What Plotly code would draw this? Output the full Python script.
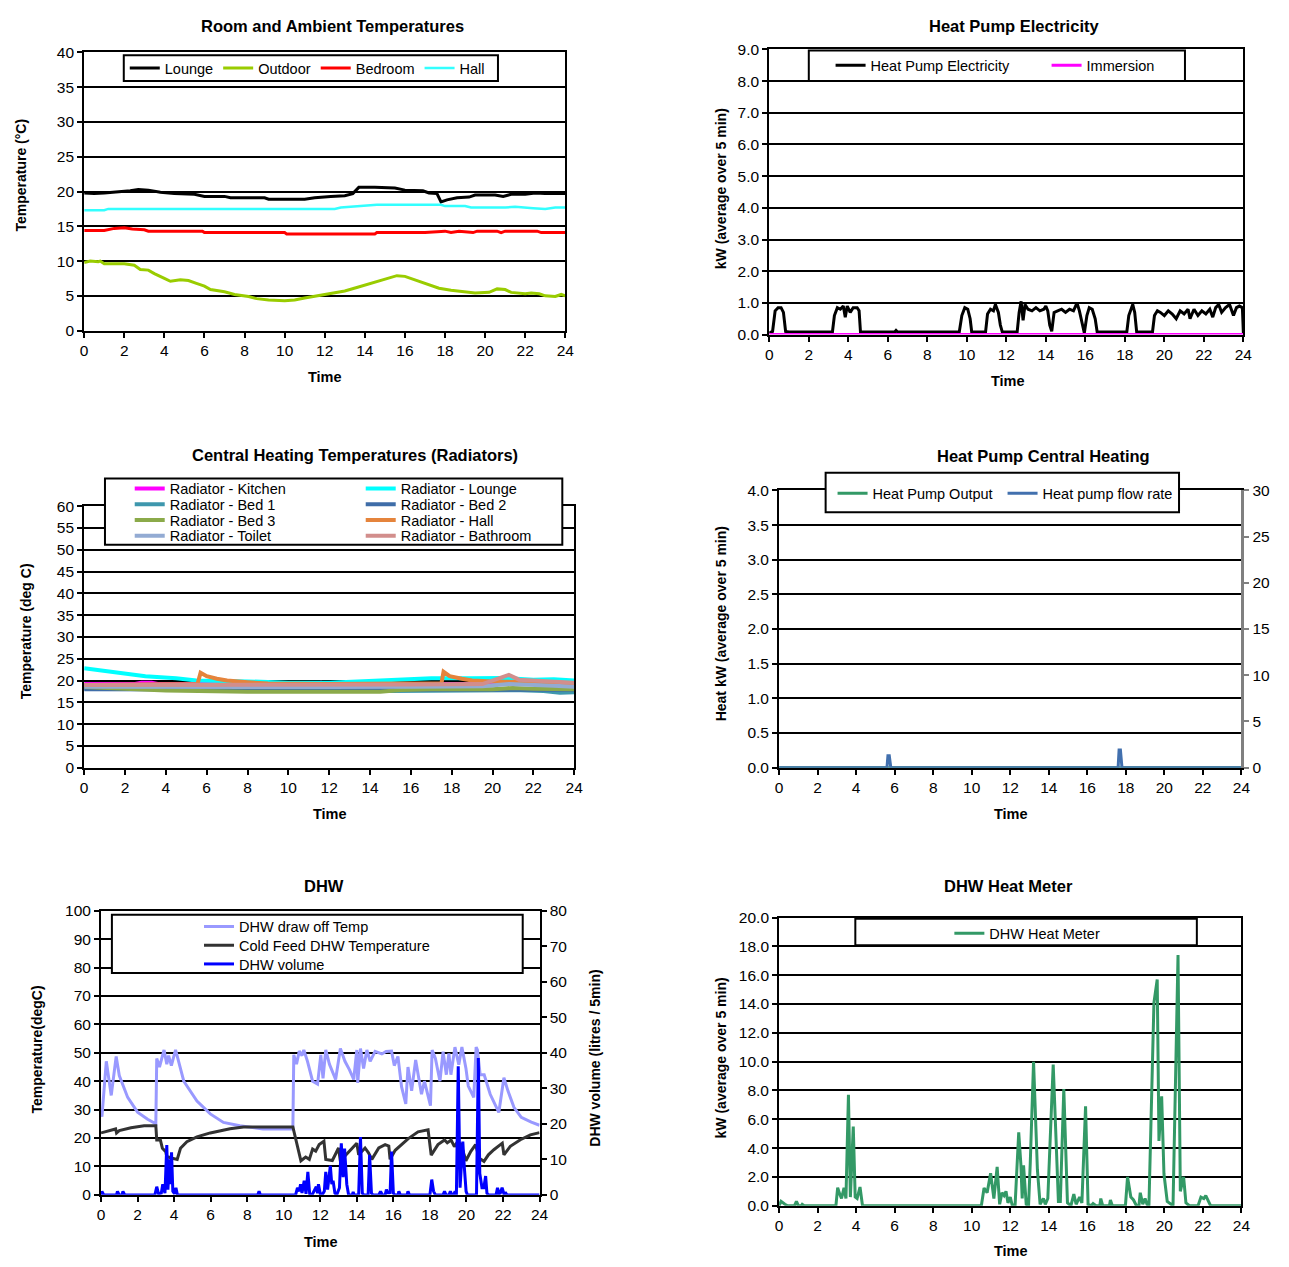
import plotly.graph_objects as go

# ---------------- DATA ----------------
# Panel 1: Room and Ambient Temperatures
lounge_t = [0, 0.5, 1.0, 1.5, 2.0, 2.3, 2.7, 3.2, 3.8, 4.5,
            5.5, 6.0, 7.0, 7.3, 9.0, 9.2, 11.0, 11.5, 12.3, 13.0,
            13.4, 13.7, 14.5, 15.0, 15.5, 16.0, 16.9, 17.2, 17.6, 17.8,
            18.1, 18.6, 19.2, 19.5, 20.5, 20.9, 21.3, 22.0, 22.5, 23.0, 24.0]
lounge_v = [19.8, 19.7, 19.8, 19.9, 20.0, 20.1, 20.3, 20.2, 19.9, 19.7,
            19.6, 19.3, 19.3, 19.1, 19.1, 18.9, 18.9, 19.1, 19.3, 19.4,
            19.7, 20.6, 20.6, 20.5, 20.5, 20.2, 20.1, 19.8, 19.7, 18.5,
            18.8, 19.1, 19.2, 19.5, 19.5, 19.3, 19.6, 19.6, 19.8, 19.7, 19.7]
outdoor_t = [0, 0.3, 0.7, 0.8, 1.0, 2.0, 2.5, 2.8, 3.2, 3.5,
             4.0, 4.3, 4.8, 5.2, 5.6, 6.0, 6.3, 7.0, 7.5, 8.2,
             8.6, 9.2, 10.0, 10.5, 11.0, 11.6, 12.2, 13.0, 13.6, 14.2,
             14.8, 15.2, 15.6, 16.0, 16.4, 16.8, 17.2, 17.7, 18.3, 19.0,
             19.5, 20.2, 20.6, 21.0, 21.3, 22.0, 22.3, 22.7, 23.0, 23.5,
             23.8, 24.0]
outdoor_v = [9.8, 10.0, 9.9, 10.0, 9.6, 9.6, 9.4, 8.8, 8.7, 8.2,
             7.5, 7.1, 7.3, 7.2, 6.8, 6.4, 5.9, 5.6, 5.2, 4.9,
             4.6, 4.4, 4.3, 4.4, 4.7, 5.0, 5.3, 5.7, 6.2, 6.7,
             7.2, 7.6, 7.9, 7.8, 7.4, 7.0, 6.5, 6.1, 5.8, 5.6,
             5.4, 5.5, 6.0, 5.9, 5.5, 5.3, 5.4, 5.3, 5.0, 4.9,
             5.2, 5.0]
bedroom_t = [0, 1.0, 1.5, 2.0, 2.4, 3.0, 3.2, 5.9, 6.0, 10.0,
             10.1, 14.5, 14.6, 17.0, 18.0, 18.3, 18.7, 19.4, 19.6, 20.6,
             20.8, 21.0, 22.6, 22.8, 24.0]
bedroom_v = [14.4, 14.4, 14.7, 14.8, 14.6, 14.5, 14.3, 14.3, 14.1, 14.1,
             13.9, 13.9, 14.1, 14.1, 14.3, 14.1, 14.3, 14.1, 14.3, 14.3,
             14.1, 14.3, 14.3, 14.1, 14.1]
hall_t = [0, 1.0, 1.2, 12.5, 12.8, 13.8, 14.6, 17.8, 18.0, 19.0,
          19.3, 21.0, 21.5, 22.4, 23.0, 23.5, 24.0]
hall_v = [17.3, 17.3, 17.5, 17.5, 17.7, 17.9, 18.1, 18.1, 17.9, 17.9,
          17.7, 17.7, 17.8, 17.6, 17.5, 17.7, 17.7]

# Panel 2: Heat Pump Electricity
hp_t = [0, 0.17, 0.3, 0.45, 0.6, 0.72, 0.83, 1.0, 3.2, 3.3,
        3.45, 3.6, 3.75, 3.85, 3.95, 4.1, 4.25, 4.45, 4.55, 4.62,
        6.35, 6.42, 6.5, 9.62, 9.75, 9.9, 10.05, 10.17, 10.25, 10.95,
        11.05, 11.2, 11.35, 11.45, 11.6, 11.7, 11.8, 12.55, 12.65, 12.75,
        12.85, 12.95, 13.1, 13.3, 13.5, 13.7, 13.9, 14.0, 14.1, 14.2,
        14.3, 14.42, 14.6, 14.8, 15.0, 15.2, 15.4, 15.58, 15.7, 15.85,
        15.95, 16.08, 16.2, 16.35, 16.5, 16.6, 18.1, 18.2, 18.4, 18.5,
        18.6, 19.4, 19.5, 19.65, 19.8, 20.0, 20.2, 20.4, 20.6, 20.8,
        21.0, 21.2, 21.3, 21.5, 21.7, 21.9, 22.1, 22.3, 22.45, 22.6,
        22.75, 22.9, 23.1, 23.3, 23.5, 23.65, 23.8, 23.95, 24.0]
hp_v = [0.05, 0.1, 0.75, 0.85, 0.85, 0.7, 0.1, 0.08, 0.08, 0.6,
        0.85, 0.8, 0.9, 0.55, 0.9, 0.7, 0.85, 0.85, 0.75, 0.08,
        0.08, 0.13, 0.08, 0.08, 0.6, 0.85, 0.8, 0.5, 0.08, 0.08,
        0.65, 0.8, 0.75, 0.95, 0.7, 0.3, 0.08, 0.08, 0.7, 1.05,
        0.45, 0.95, 0.8, 0.75, 0.85, 0.75, 0.8, 0.9, 0.75, 0.3,
        0.1, 0.7, 0.75, 0.8, 0.7, 0.8, 0.75, 1.0, 0.75, 0.3,
        0.05, 0.6, 0.85, 0.8, 0.5, 0.08, 0.08, 0.6, 0.95, 0.7,
        0.08, 0.08, 0.6, 0.75, 0.7, 0.6, 0.75, 0.65, 0.5, 0.75,
        0.65, 0.8, 0.5, 0.8, 0.6, 0.75, 0.65, 0.8, 0.55, 0.85,
        0.95, 0.7, 0.85, 0.95, 0.6, 0.85, 0.9, 0.85, 0.05]
imm_t = [0, 24]
imm_v = [0, 0]

# Panel 3: Central Heating Temperatures (Radiators)
rad_kitchen_t = [0, 2.5, 2.8, 3.3, 3.6, 11.3, 11.6, 12.0, 14.0, 14.3, 14.6, 24]
rad_kitchen_v = [19.2, 19.2, 19.5, 19.5, 19.2, 19.2, 19.5, 19.2, 19.2, 19.6, 19.2, 19.2]
rad_lounge_t = [0, 0.5, 1.5, 3.0, 4.5, 5.5, 8.0, 10.0, 12.0, 13.0,
                14.0, 15.0, 17.0, 19.0, 20.5, 22.0, 23.0, 24.0]
rad_lounge_v = [22.8, 22.5, 21.8, 21.0, 20.5, 20.0, 19.8, 19.5, 19.5, 19.7,
                20.0, 20.3, 20.5, 20.5, 20.6, 20.2, 20.3, 20.0]
rad_bed1_t = [0, 6, 10, 14.5, 15.0, 19.5, 21, 22.5, 23.3, 24]
rad_bed1_v = [18.2, 18.2, 18.2, 18.2, 17.6, 17.7, 17.8, 17.6, 17.2, 17.3]
rad_bed2_t = [0, 6, 12, 18, 24]
rad_bed2_v = [18.0, 18.0, 18.0, 18.0, 17.9]
rad_bed3_t = [0, 2, 4, 8, 14.5, 15.5, 17, 20, 21, 22, 24]
rad_bed3_v = [18.5, 18.0, 17.7, 17.4, 17.4, 17.8, 18.0, 18.0, 18.3, 18.1, 18.0]
rad_hall_t = [0, 5.55, 5.7, 6.0, 6.5, 7.0, 8.0, 9.0, 12.0, 17.5,
              17.6, 17.9, 18.5, 19.0, 20.0, 22.0, 24.0]
rad_hall_v = [19.0, 19.2, 21.8, 21.0, 20.4, 20.0, 19.6, 19.3, 19.2, 19.4,
              22.0, 21.0, 20.4, 20.0, 19.8, 19.6, 19.4]
rad_toilet_t = [0, 4, 8, 12, 16, 19.5, 20.8, 21.5, 23, 24]
rad_toilet_v = [18.6, 18.5, 18.4, 18.5, 18.6, 18.7, 19.2, 19.0, 18.8, 18.6]
rad_bath_t = [0, 4, 8, 12, 16, 19.5, 20.0, 20.8, 21.3, 22.0, 23, 24]
rad_bath_v = [19.0, 19.0, 18.9, 19.0, 19.1, 19.2, 20.0, 21.3, 20.2, 20.0, 19.7, 19.5]

# Panel 4: Heat Pump Central Heating
hpout_t = [0, 24]
hpout_v = [0, 0]
flow_t = [0, 5.6, 5.65, 5.72, 5.8, 17.6, 17.65, 17.72, 17.8, 24]
flow_v = [0, 0, 1.3, 1.3, 0, 0, 1.9, 1.9, 0, 0]

# Panel 5: DHW
draw_t = [0.0, 0.05, 0.29, 0.45, 0.56, 0.83, 1.0, 1.46, 2.0, 2.55,
          3.0, 3.05, 3.2, 3.45, 3.6, 3.7, 3.85, 4.08, 4.53, 5.25,
          5.98, 6.7, 7.6, 8.87, 10.5, 10.55, 10.7, 10.85, 11.0, 11.1,
          11.3, 11.58, 11.85, 12.03, 12.15, 12.3, 12.5, 12.84, 13.1, 13.35,
          13.6, 13.83, 14.0, 14.05, 14.2, 14.37, 14.55, 14.73, 15.0, 15.37,
          15.6, 15.9, 16.05, 16.25, 16.45, 16.68, 16.8, 17.0, 17.22, 17.54,
          17.7, 18.03, 18.12, 18.3, 18.55, 18.72, 18.9, 19.04, 19.15, 19.37,
          19.58, 19.75, 19.97, 20.1, 20.4, 20.53, 20.6, 20.75, 20.97, 21.3,
          21.77, 22.05, 22.27, 22.6, 23.0, 23.55, 24.0]
draw_v = [30, 27.5, 47, 40, 35, 48.7, 42, 34.3, 29.1, 26.6,
          25.0, 48, 45, 51, 46, 49, 45.5, 51, 40, 33,
          28.5, 25.5, 24.3, 23.2, 23.2, 49.3, 46, 50.6, 49, 51,
          47, 40, 39, 49.3, 41, 51, 46, 40.6, 51.5, 47,
          44, 40.6, 51, 39.4, 51.5, 44.5, 51, 47, 50.5, 49.6,
          50.5, 50.6, 45.5, 48.7, 38, 32, 45, 36.6, 47.5, 35.4,
          40, 31.4, 51, 48, 40, 50.4, 42.3, 49.8, 42.3, 52,
          45.8, 52, 44.6, 38.3, 34.3, 52, 51, 42.3, 42.3, 35.4,
          29, 41.2, 36.6, 30.8, 27.3, 25.6, 24.5]
cold_t = [0.0, 0.5, 0.8, 0.85, 1.0, 1.64, 2.36, 3.0, 3.05, 3.25,
          3.36, 3.54, 3.6, 3.9, 4.17, 4.35, 4.7, 5.25, 5.98, 7.06,
          7.8, 10.5, 10.67, 10.76, 10.94, 11.2, 11.4, 11.58, 11.75, 11.94,
          12.2, 12.3, 12.66, 13.0, 13.1, 13.4, 13.74, 14.0, 14.1, 14.45,
          14.64, 14.82, 15.2, 15.55, 15.75, 15.82, 16.1, 16.8, 17.35, 17.9,
          18.07, 18.44, 18.8, 18.95, 19.16, 19.34, 19.5, 19.7, 19.97, 20.24,
          20.5, 20.7, 20.96, 21.2, 21.5, 21.96, 22.05, 22.4, 22.95, 23.5,
          24.0]
cold_v = [21.8, 22.8, 23.2, 21.8, 22.6, 23.6, 24.3, 24.3, 19.3, 19.3,
          16.4, 15.2, 13.5, 12.9, 12.5, 16.4, 18.7, 20.4, 21.8, 23.3,
          23.9, 23.9, 19.3, 16.4, 12.0, 13.3, 12.5, 16.1, 15.4, 17.7,
          18.9, 12.5, 12.1, 16.5, 11.8, 14.0, 16.5, 18.2, 14.1, 16.5,
          14.8, 12.5, 16.5, 17.7, 17.2, 12.5, 15.7, 19.7, 22.2, 22.9,
          14.0, 17.7, 19.3, 18.3, 19.3, 17.0, 18.6, 17.8, 12.0, 15.3,
          17.7, 12.9, 11.8, 14.1, 15.9, 18.2, 14.1, 17.1, 19.4, 21.1,
          21.9]
vol_t = [0, 0.05, 0.15, 0.85, 0.9, 1.0, 1.15, 1.2, 1.3, 2.95,
         3.05, 3.15, 3.3, 3.38, 3.5, 3.6, 3.66, 3.75, 3.8, 3.86,
         3.93, 4.03, 4.1, 4.18, 8.58, 8.65, 8.72, 10.65, 10.75, 10.85,
         10.92, 11.0, 11.12, 11.22, 11.32, 11.42, 11.55, 11.7, 11.78, 11.85,
         11.9, 12.0, 12.1, 12.22, 12.3, 12.4, 12.5, 12.55, 12.63, 12.7,
         12.8, 12.9, 13.05, 13.15, 13.25, 13.33, 13.45, 13.55, 13.75, 13.8,
         13.85, 14.1, 14.2, 14.3, 14.38, 14.62, 14.7, 14.8, 14.88, 15.2,
         15.3, 15.4, 15.55, 15.62, 15.7, 15.75, 15.82, 15.9, 16.0, 16.08,
         16.25, 16.3, 16.38, 16.75, 16.8, 16.88, 18.0, 18.1, 18.2, 18.3,
         18.72, 18.8, 18.88, 19.05, 19.12, 19.2, 19.3, 19.38, 19.45, 19.55,
         19.65, 19.8, 19.88, 19.98, 20.05, 20.55, 20.65, 20.73, 20.85, 20.95,
         21.05, 21.12, 21.2, 21.62, 21.7, 21.78, 21.85, 21.95, 22.05, 22.15,
         22.22, 24.0]
vol_v = [0, 1, 0, 0, 1, 0, 0, 1, 0, 0,
         2.3, 0.3, 0.5, 3, 0.5, 14, 1.5, 10, 3, 12,
         1, 0.3, 2, 0, 0, 1, 0, 0, 2, 1,
         3, 0.5, 4, 0.3, 6.5, 0.3, 0, 1.5, 2.3, 0.5,
         3, 0.3, 0, 1, 6.5, 1.5, 7, 8.2, 3, 4,
         0.5, 0, 2, 14.5, 5, 13, 3, 0, 0, 0.8,
         0, 0, 16.3, 0.5, 0, 0, 11.3, 0.5, 0, 0,
         1, 0, 0, 1.5, 0.3, 1, 0.3, 12.2, 0.5, 0,
         0, 1, 0, 0, 1, 0, 0, 4.3, 1, 0,
         0, 1, 0, 0, 1, 0, 0, 1, 0, 36.2,
         2, 15, 8, 1, 0, 0, 38.5, 6, 2, 2,
         5.3, 0.5, 0, 0, 2, 0.3, 0.5, 2, 0.3, 0.5,
         0, 0]

# Panel 6: DHW Heat Meter
hm_t = [0, 0.1, 0.3, 0.45, 0.8, 0.9, 1.0, 1.15, 1.2, 1.3,
        2.95, 3.04, 3.15, 3.24, 3.37, 3.47, 3.6, 3.7, 3.85, 3.95,
        4.05, 4.2, 4.33, 10.5, 10.64, 10.8, 10.98, 11.15, 11.32, 11.45,
        11.57, 11.68, 11.78, 11.88, 12.0, 12.1, 12.25, 12.44, 12.55, 12.62,
        12.69, 12.83, 12.95, 13.04, 13.21, 13.41, 13.55, 13.72, 13.82, 13.95,
        14.23, 14.5, 14.6, 14.78, 14.97, 15.15, 15.3, 15.42, 15.6, 15.72,
        15.91, 16.04, 16.2, 16.3, 16.45, 16.65, 16.7, 16.8, 17.15, 17.2,
        17.3, 17.98, 18.09, 18.26, 18.4, 18.55, 18.68, 18.75, 18.88, 19.0,
        19.1, 19.2, 19.46, 19.63, 19.72, 19.86, 19.98, 20.15, 20.45, 20.71,
        20.83, 21.0, 21.12, 21.3, 21.75, 21.9, 22.05, 22.15, 22.4, 24.0]
hm_v = [0, 0.3, 0.1, 0, 0, 0.3, 0, 0, 0.1, 0,
        0, 1.25, 0.8, 0.5, 1.25, 0.5, 7.7, 0.6, 5.5, 0.6,
        0.5, 1.3, 0, 0, 1.23, 0.9, 2.26, 0.5, 2.7, 0.1,
        0.9, 0.7, 1.0, 0.2, 0.6, 0.05, 0, 5.1, 2.9, 0.5,
        2.8, 0.1, 0, 3.0, 10.0, 2.5, 0.1, 0.5, 0.1, 0.5,
        9.8, 0.3, 0.3, 8.1, 0.2, 0, 0.8, 0.1, 0.6, 0.2,
        6.9, 0.1, 0, 0.15, 0, 0, 0.5, 0, 0, 0.4,
        0, 0, 2.0, 0.6, 0.4, 0, 0, 0.9, 0.1, 0.5,
        0.1, 0, 14.1, 15.7, 4.5, 7.6, 2.2, 0.3, 0, 17.4,
        1.0, 2.0, 0.2, 0, 0, 0.6, 0.5, 0.7, 0, 0]

x_ticks = list(range(0, 25, 2))

# ---------------- LAYOUT HELPERS ----------------
W, H = 1289, 1267
FONT = "Liberation Sans, Arial, Helvetica, sans-serif"


def fx(p):
    return p / W


def fy(p):
    return 1 - p / H


fig = go.Figure()


def add(x, y, name, color, xa, ya, legend, width=3):
    fig.add_trace(go.Scatter(x=x, y=y, name=name, mode="lines",
                             line=dict(color=color, width=width),
                             xaxis=xa, yaxis=ya, legend=legend,
                             hoverinfo="skip"))


# Panel 1
add(lounge_t, lounge_v, "Lounge", "#000000", "x", "y", "legend")
add(outdoor_t, outdoor_v, "Outdoor", "#99CC00", "x", "y", "legend")
add(bedroom_t, bedroom_v, "Bedroom", "#FF0000", "x", "y", "legend")
add(hall_t, hall_v, "Hall", "#33FFFF", "x", "y", "legend", 2.5)
# Panel 2
add(hp_t, hp_v, "Heat Pump Electricity", "#000000", "x2", "y2", "legend2")
add(imm_t, imm_v, "Immersion", "#FF00FF", "x2", "y2", "legend2")
# Panel 3
add(rad_kitchen_t, rad_kitchen_v, "Radiator - Kitchen", "#FF00FF", "x3", "y3", "legend3", 4)
add(rad_lounge_t, rad_lounge_v, "Radiator - Lounge", "#00FFFF", "x3", "y3", "legend3", 4)
add(rad_bed1_t, rad_bed1_v, "Radiator - Bed 1", "#3E97AD", "x3", "y3", "legend4", 4)
add(rad_bed2_t, rad_bed2_v, "Radiator - Bed 2", "#3F6DA8", "x3", "y3", "legend4", 4)
add(rad_bed3_t, rad_bed3_v, "Radiator - Bed 3", "#8BAA4A", "x3", "y3", "legend5", 4)
add(rad_hall_t, rad_hall_v, "Radiator - Hall", "#E5843C", "x3", "y3", "legend5", 4)
add(rad_toilet_t, rad_toilet_v, "Radiator - Toilet", "#93ABD3", "x3", "y3", "legend6", 4)
add(rad_bath_t, rad_bath_v, "Radiator - Bathroom", "#D28E8C", "x3", "y3", "legend6", 4)
# Panel 4
add(hpout_t, hpout_v, "Heat Pump Output", "#339966", "x4", "y4", "legend7")
add(flow_t, flow_v, "Heat pump flow rate", "#4270AE", "x4", "y5", "legend7")
# Panel 5
add(draw_t, draw_v, "DHW draw off Temp", "#9999FF", "x5", "y6", "legend8")
add(cold_t, cold_v, "Cold Feed DHW Temperature", "#333333", "x5", "y6", "legend9")
add(vol_t, vol_v, "DHW volume", "#0000FF", "x5", "y7", "legend10")
# Panel 6
add(hm_t, hm_v, "DHW Heat Meter", "#339966", "x6", "y8", "legend11")

TF = dict(size=15.5, color="black", family=FONT)


def xax(x0, x1, anchor, layer="above traces"):
    return dict(domain=[fx(x0), fx(x1)], anchor=anchor, range=[0, 24],
                tickmode="array", tickvals=x_ticks, ticks="outside", ticklen=5,
                tickwidth=2, tickcolor="black", showline=True, linewidth=2,
                linecolor="black", mirror=True, showgrid=False, zeroline=False,
                tickfont=TF, fixedrange=True, layer=layer)


def yax(top, bottom, anchor, rng, dtick, fmt=None, mirror=True):
    d = dict(domain=[fy(bottom), fy(top)], anchor=anchor, range=rng,
             tick0=0, dtick=dtick, ticks="outside", ticklen=5, tickwidth=2,
             tickcolor="black", showline=True, linewidth=2, linecolor="black",
             mirror=mirror, showgrid=True, gridcolor="black", gridwidth=2,
             zeroline=False, tickfont=TF, fixedrange=True)
    if fmt:
        d["tickformat"] = fmt
    return d


layout = dict(
    width=W, height=H, margin=dict(l=0, r=0, t=0, b=0),
    paper_bgcolor="white", plot_bgcolor="white",
    font=dict(family=FONT, size=14, color="black"),
    xaxis=xax(81, 567, "y"),
    yaxis=yax(44, 326, "x", [0, 40], 5),
    xaxis2=xax(773, 1252, "y2", "below traces"),
    yaxis2=yax(41, 330, "x2", [0, 9], 1, ".1f"),
    xaxis3=xax(81, 576, "y3"),
    yaxis3=yax(504, 769, "x3", [0, 60], 5),
    xaxis4=xax(783, 1250, "y4", "below traces"),
    yaxis4=yax(488, 769, "x4", [0, 4], 0.5, ".1f", mirror=False),
    xaxis5=xax(98, 541, "y6", "below traces"),
    yaxis6=yax(914, 1202, "x5", [0, 100], 10, mirror=False),
    xaxis6=xax(783, 1250, "y8", "below traces"),
    yaxis8=yax(921, 1213, "x6", [0, 20], 2, ".1f"),
)
layout["yaxis5"] = dict(domain=[fy(769), fy(488)], anchor="x4", overlaying="y4",
                        side="right", range=[0, 30], tick0=0, dtick=5,
                        ticks="outside", ticklen=5, tickwidth=2, tickcolor="#808080",
                        showline=True, linewidth=3, linecolor="#808080",
                        showgrid=False, zeroline=False, tickfont=TF, fixedrange=True)
layout["yaxis7"] = dict(domain=[fy(1202), fy(914)], anchor="x5", overlaying="y6",
                        side="right", range=[0, 80], tick0=0, dtick=10,
                        ticks="outside", ticklen=5, tickwidth=2, tickcolor="black",
                        showline=True, linewidth=2, linecolor="black",
                        showgrid=False, zeroline=False, tickfont=TF, fixedrange=True)

LF = dict(size=14.5, color="black", family=FONT)


def leg(line_x, row_y, pitch=None):
    d = dict(x=fx(line_x - 8), y=fy(row_y), xanchor="left", yanchor="middle",
             bgcolor="rgba(0,0,0,0)", borderwidth=0, font=LF,
             orientation="h", tracegroupgap=0)
    if pitch:
        d["entrywidth"] = pitch - 45
        d["entrywidthmode"] = "pixels"
    return d


layout["legend"] = leg(130, 60)
layout["legend2"] = leg(843, 57, 216)
layout["legend3"] = leg(135, 486, 231)
layout["legend4"] = leg(135, 502, 231)
layout["legend5"] = leg(135, 518, 231)
layout["legend6"] = leg(135, 534, 231)
layout["legend7"] = leg(845, 491, 170)
layout["legend8"] = leg(205, 930)
layout["legend9"] = leg(205, 949)
layout["legend10"] = leg(205, 968)
layout["legend11"] = leg(963, 937)


def box(x0, y0, x1, y1):
    return dict(type="rect", xref="paper", yref="paper", x0=fx(x0), x1=fx(x1),
                y0=fy(y1), y1=fy(y0), fillcolor="white",
                line=dict(color="black", width=2), layer="above")


layout["shapes"] = [
    box(121, 47, 499, 73),
    box(813, 42, 1193, 73),
    box(102, 476, 564, 543),
    box(830, 470, 1187, 510),
    box(109, 918, 524, 977),
    box(860, 922, 1205, 949),
]


def ann(text, x, y, size=14, angle=0):
    return dict(text="<b>" + text + "</b>", x=fx(x), y=fy(y), xref="paper",
                yref="paper", showarrow=False, xanchor="center",
                yanchor="middle", textangle=angle,
                font=dict(size=size, family=FONT, color="black"))


layout["annotations"] = [
    ann("Room and Ambient Temperatures", 332, 17, 16.5),
    ann("Heat Pump Electricity", 1020, 17, 16.5),
    ann("Central Heating Temperatures (Radiators)", 355, 452, 16.5),
    ann("Heat Pump Central Heating", 1050, 453, 16.5),
    ann("DHW", 323, 889, 16.5),
    ann("DHW Heat Meter", 1015, 889, 16.5),
    ann("Time", 324, 373, 14.5),
    ann("Time", 1014, 377, 14.5),
    ann("Time", 329, 816, 14.5),
    ann("Time", 1017, 816, 14.5),
    ann("Time", 320, 1250, 14.5),
    ann("Time", 1017, 1259, 14.5),
    ann("Temperature (°C)", 17, 168, 14, -90),
    ann("kW (average over 5 min)", 724, 182, 14, -90),
    ann("Temperature (deg C)", 22, 631, 14, -90),
    ann("Heat kW (average over 5 min)", 724, 623, 14, -90),
    ann("Temperature(degC)", 33, 1055, 14, -90),
    ann("DHW volume (litres / 5min)", 597, 1063, 14, -90),
    ann("kW (average over 5 min)", 724, 1063, 14, -90),
]

fig.update_layout(**layout)
fig.write_html(
    "out.html",
    post_script="document.body.style.margin='0';"
                "document.documentElement.style.overflow='hidden';",
)
